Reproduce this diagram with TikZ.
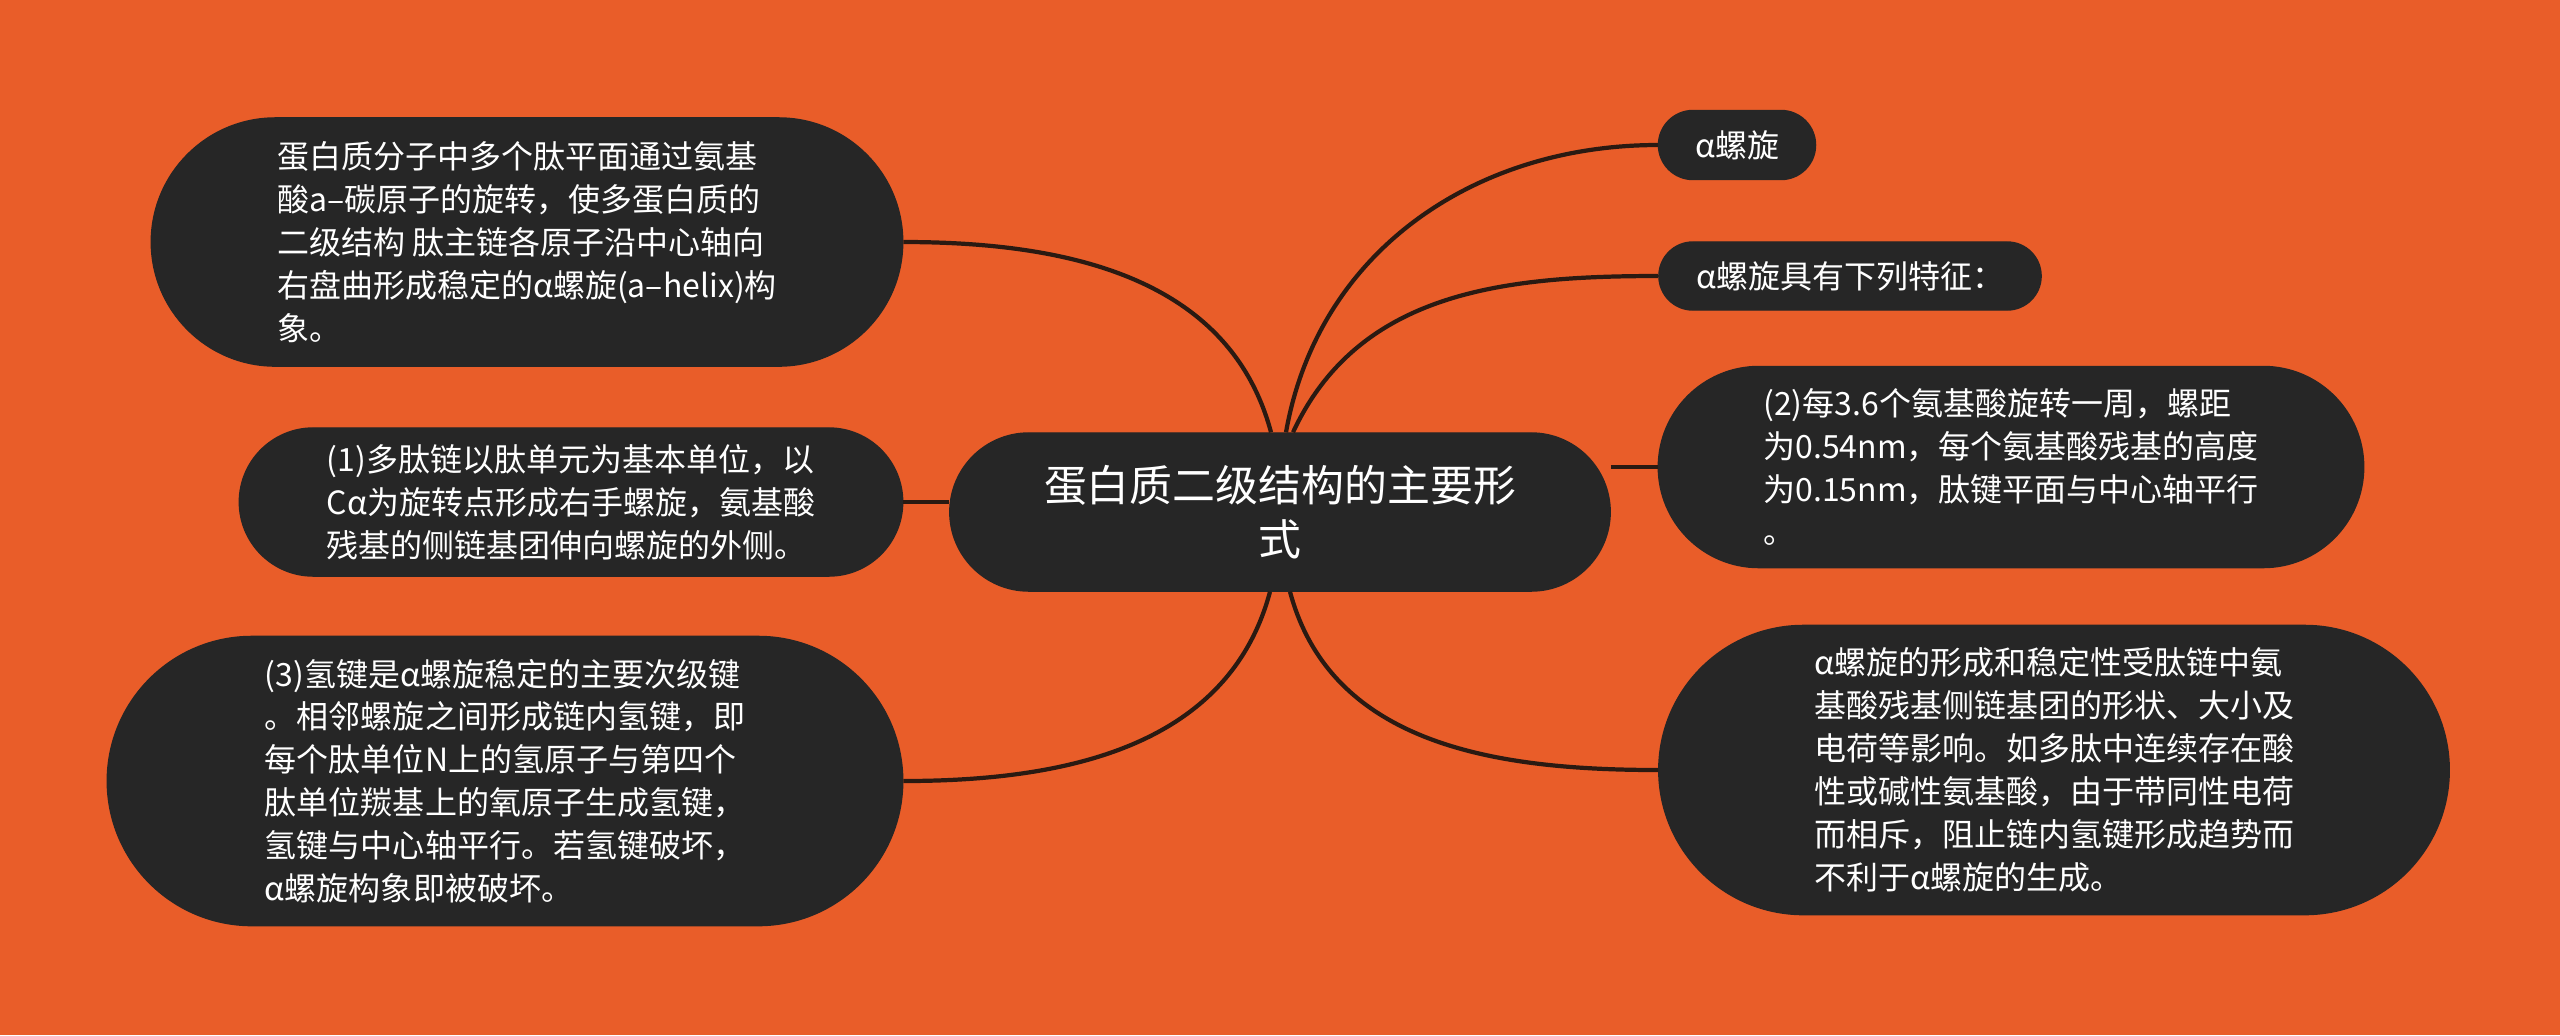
\documentclass[tikz,border=0pt]{standalone}
\usepackage{fontspec}
\setmainfont{Noto Sans CJK SC}
\usetikzlibrary{shapes.misc}

\definecolor{bgorange}{HTML}{E95D29}
\definecolor{nodedark}{HTML}{262626}
\definecolor{linedark}{HTML}{2A1A12}

\tikzset{
  topic/.style={rounded rectangle, fill=nodedark, draw=black!85, line width=0.4pt,
    text=white, align=left, inner sep=0pt,
    font=\fontsize{9.1pt}{12.2pt}\selectfont},
  branch/.style={draw=linedark, line width=1.2pt},
}

\begin{document}
\begin{tikzpicture}[x=0.01cm,y=-0.01cm]

      \fill [bgorange] (0,0) rectangle (2560,1035);
      \useasboundingbox (0,0) rectangle (2560,1035);

      % The centre topic.
      \node [topic, align=center, minimum width=6.6cm, minimum height=1.58cm,
        font=\fontsize{12.2pt}{15.4pt}\selectfont] (main) at (1280,512)
        {蛋白质二级结构的主要形\\式};

      % The left side.
      \node [topic, minimum width=7.51cm, minimum height=2.48cm] (helixform) at (527,242)
        {蛋白质分子中多个肽平面通过氨基\\
         酸a–碳原子的旋转，使多蛋白质的\\
         二级结构 肽主链各原子沿中心轴向\\
         右盘曲形成稳定的α螺旋(a–helix)构\\
         象。};

      \node [topic, minimum width=6.63cm, minimum height=1.48cm] (unitrule) at (571,502)
        {(1)多肽链以肽单元为基本单位，以\\
         Cα为旋转点形成右手螺旋，氨基酸\\
         残基的侧链基团伸向螺旋的外侧。};

      \node [topic, minimum width=7.95cm, minimum height=2.89cm] (hbond) at (505,781)
        {(3)氢键是α螺旋稳定的主要次级键\\
         。相邻螺旋之间形成链内氢键，即\\
         每个肽单位N上的氢原子与第四个\\
         肽单位羰基上的氧原子生成氢键，\\
         氢键与中心轴平行。若氢键破坏，\\
         α螺旋构象即被破坏。};

      % The right side.
      \node [topic, minimum width=1.57cm, minimum height=0.69cm] (alpha) at (1737,145)
        {α螺旋};

      \node [topic, minimum width=3.82cm, minimum height=0.68cm] (features) at (1850,276)
        {α螺旋具有下列特征：};

      \node [topic, minimum width=7.05cm, minimum height=2.01cm] (pitch) at (2011,467)
        {(2)每3.6个氨基酸旋转一周，螺距\\
         为0.54nm，每个氨基酸残基的高度\\
         为0.15nm，肽键平面与中心轴平行\\
         。};

      \node [topic, minimum width=7.9cm, minimum height=2.89cm] (sidechain) at (2054,770)
        {α螺旋的形成和稳定性受肽链中氨\\
         基酸残基侧链基团的形状、大小及\\
         电荷等影响。如多肽中连续存在酸\\
         性或碱性氨基酸，由于带同性电荷\\
         而相斥，阻止链内氢键形成趋势而\\
         不利于α螺旋的生成。};

      % The branches.
      \draw [branch] (helixform.east) to[out=0,in=105] ([xshift=-0.09cm]main.north);
      \draw [branch] (unitrule.east) -- (unitrule.east -| main.west);
      \draw [branch] (hbond.east) to[out=0,in=-105] ([xshift=-0.1cm]main.south);
      \draw [branch] ([xshift=0.06cm]main.north) to[out=80,in=180] (alpha.west);
      \draw [branch] ([xshift=0.13cm]main.north) to[out=65,in=180] (features.west);
      \draw [branch] (pitch.west -| main.east) -- (pitch.west);
      \draw [branch] ([xshift=0.1cm]main.south) to[out=-75,in=180] (sidechain.west);

    \end{tikzpicture}
\end{document}
